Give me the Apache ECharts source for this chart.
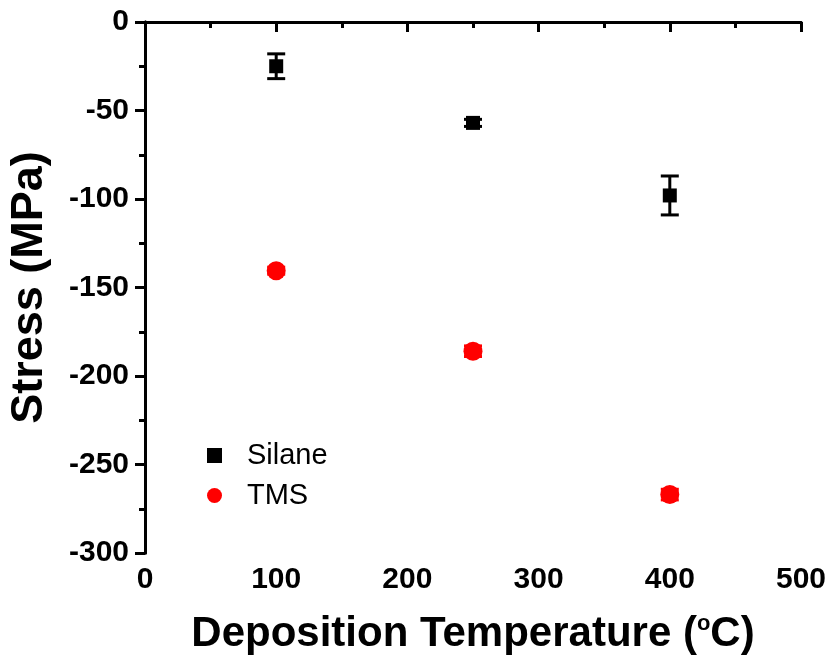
<!DOCTYPE html>
<html>
<head>
<meta charset="utf-8">
<script src="https://cdn.jsdelivr.net/npm/echarts@6/dist/echarts.min.js"></script>
<style>html,body{margin:0;padding:0;background:#fff}#c{width:829px;height:660px}</style>
</head>
<body>
<div id="c"></div>
<script>
const temperatures = [100, 250, 400];
const silaneStress = [-25, -57, -98];
const silaneError = [7, 2, 11];
const tmsStress = [-140.5, -186, -267];
const tmsError = [2, 3, 3];
const seriesNames = ['Silane', 'TMS'];
const seriesColors = ['#000000', '#ff0000'];

const FONT = "'Liberation Sans', Arial, sans-serif";
const chart = echarts.init(document.getElementById('c'), null, {renderer: 'canvas'});

function errData(vals, errs) {
  return temperatures.map((t, i) => [t, vals[i] - errs[i], vals[i] + errs[i]]);
}
function errSeries(name, vals, errs, color) {
  return {
    type: 'custom', name: name, data: errData(vals, errs), z: 3,
    itemStyle: {color: color},
    renderItem: function (params, api) {
      const x = api.value(0);
      const lo = api.coord([x, api.value(1)]);
      const hi = api.coord([x, api.value(2)]);
      const w = 9;
      const st = {stroke: color, lineWidth: 3};
      return {type: 'group', children: [
        {type: 'line', shape: {x1: lo[0], y1: lo[1], x2: hi[0], y2: hi[1]}, style: st},
        {type: 'line', shape: {x1: lo[0] - w, y1: lo[1], x2: lo[0] + w, y2: lo[1]}, style: st},
        {type: 'line', shape: {x1: hi[0] - w, y1: hi[1], x2: hi[0] + w, y2: hi[1]}, style: st}
      ]};
    }
  };
}

const axisLine = {show: true, lineStyle: {color: '#000', width: 3}};
chart.setOption({
  animation: false,
  grid: {left: 145, right: 28, top: 22, bottom: 107, containLabel: false, outerBoundsMode: 'none'},
  legend: {
    left: 202, top: 436, orient: 'vertical', itemGap: 11,
    itemWidth: 15, itemHeight: 15,
    textStyle: {fontFamily: FONT, fontSize: 29, color: '#000', padding: [0, 0, 0, 20], lineHeight: 28},
    data: [{name: seriesNames[0], icon: 'rect'}, {name: seriesNames[1], icon: 'circle'}]
  },
  xAxis: [{
    type: 'value', min: 0, max: 500, interval: 100, position: 'bottom',
    axisLine: axisLine,
    axisTick: {show: true, inside: false, length: 10, lineStyle: {width: 3, color: '#000'}},
    minorTick: {show: true, splitNumber: 2, length: 6, lineStyle: {width: 3, color: '#000'}},
    splitLine: {show: false},
    axisLabel: {color: '#000', fontFamily: FONT, fontWeight: 'bold', fontSize: 30, margin: 12},
    name: 'Deposition Temperature ({sup|o}C)', nameLocation: 'middle', nameGap: 60,
    nameTextStyle: {color: '#000', fontFamily: FONT, fontWeight: 'bold', fontSize: 42,
      rich: {sup: {fontFamily: FONT, fontSize: 22, fontWeight: 'bold', verticalAlign: 'top', padding: [0, 0, 16, 0]}}}
  }, {
    type: 'value', min: 0, max: 500, position: 'top',
    axisLine: axisLine, axisTick: {show: false}, axisLabel: {show: false}, splitLine: {show: false}
  }],
  yAxis: [{
    type: 'value', min: -300, max: 0, interval: 50, position: 'left',
    axisLine: axisLine,
    axisTick: {show: true, inside: false, length: 10, lineStyle: {width: 3, color: '#000'}},
    minorTick: {show: true, splitNumber: 2, length: 6, lineStyle: {width: 3, color: '#000'}},
    splitLine: {show: false},
    axisLabel: {color: '#000', fontFamily: FONT, fontWeight: 'bold', fontSize: 30, margin: 16},
    name: 'Stress (MPa)', nameLocation: 'middle', nameGap: 93, nameRotate: 90,
    nameTextStyle: {color: '#000', fontFamily: FONT, fontWeight: 'bold', fontSize: 45}
  }, {
    type: 'value', min: -300, max: 0, position: 'right',
    axisLine: axisLine, axisTick: {show: false}, axisLabel: {show: false}, splitLine: {show: false}
  }],
  series: [
    {type: 'scatter', name: seriesNames[0], symbol: 'rect', symbolSize: 14, z: 4,
      itemStyle: {color: seriesColors[0], opacity: 1},
      data: temperatures.map((t, i) => [t, silaneStress[i]])},
    {type: 'scatter', name: seriesNames[1], symbol: 'circle', symbolSize: 19, z: 4,
      itemStyle: {color: seriesColors[1], opacity: 1},
      data: temperatures.map((t, i) => [t, tmsStress[i]])},
    errSeries(seriesNames[0], silaneStress, silaneError, seriesColors[0]),
    errSeries(seriesNames[1], tmsStress, tmsError, seriesColors[1])
  ]
});
</script>
</body>
</html>
